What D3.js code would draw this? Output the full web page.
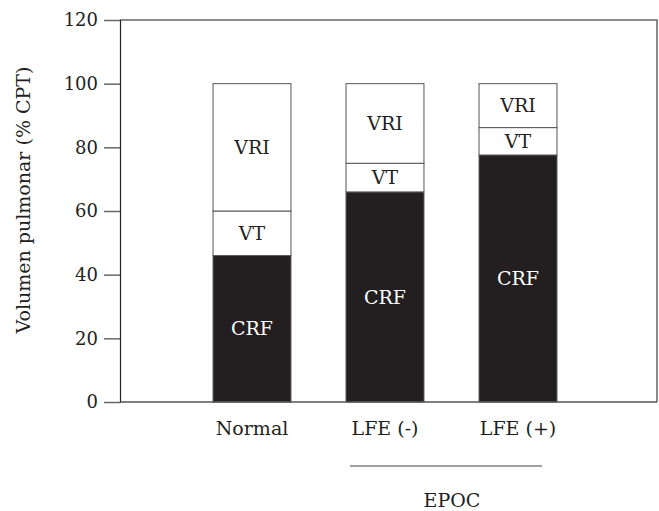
<!DOCTYPE html>
<html>
<head>
<meta charset="utf-8">
<script src="https://cdn.jsdelivr.net/npm/d3@7"></script>
<style>
  body { margin: 0; background: #fff; }
  text { font-family: 'DejaVu Serif', serif; fill: #231f20; }
</style>
</head>
<body>
<div id="chart"></div>
<script>
const categories = ['Normal', 'LFE (-)', 'LFE (+)'];
const crf = [46, 66, 77.6];
const vt = [14, 9, 8.6];
const vri = [40, 25, 13.8];
const yTicks = [0, 20, 40, 60, 80, 100, 120];
const segments = ['CRF', 'VT', 'VRI'];

const width = 659, height = 511;
const box = { left: 120, right: 657, top: 20, bottom: 402 };

const rows = categories.map((c, i) => ({ cat: c, CRF: crf[i], VT: vt[i], VRI: vri[i] }));
const stacked = d3.stack().keys(segments)(rows);

const svg = d3.select('#chart').append('svg')
  .attr('width', width)
  .attr('height', height);

const x = d3.scaleBand()
  .domain(categories)
  .range([185.5, 584.5])
  .paddingInner(0.414)
  .paddingOuter(0.207);

const y = d3.scaleLinear().domain([0, 120]).range([box.bottom, box.top]);

// frame (top + right)
svg.append('path')
  .attr('d', `M${box.left},${box.top}H${box.right}V${box.bottom}`)
  .attr('fill', 'none')
  .attr('stroke', '#666')
  .attr('stroke-width', 1.5);

// bars
const layer = svg.selectAll('g.layer')
  .data(stacked)
  .join('g')
  .attr('class', 'layer');

layer.selectAll('rect')
  .data((d) => d.map((v) => ({ key: d.key, v })))
  .join('rect')
  .attr('x', (d) => x(d.v.data.cat))
  .attr('y', (d) => y(d.v[1]))
  .attr('width', x.bandwidth())
  .attr('height', (d) => y(d.v[0]) - y(d.v[1]))
  .attr('fill', (d) => (d.key === 'CRF' ? '#231f20' : '#fff'))
  .attr('stroke', '#555')
  .attr('stroke-width', 1);

layer.selectAll('text')
  .data((d) => d.map((v) => ({ key: d.key, v })))
  .join('text')
  .attr('x', (d) => x(d.v.data.cat) + x.bandwidth() / 2)
  .attr('y', (d) => (y(d.v[0]) + y(d.v[1])) / 2)
  .attr('dy', '0.35em')
  .attr('text-anchor', 'middle')
  .attr('font-size', 19)
  .style('fill', (d) => (d.key === 'CRF' ? '#fff' : '#231f20'))
  .text((d) => d.key);

// y axis
const yAxis = svg.append('g')
  .attr('transform', `translate(${box.left},0)`)
  .call(d3.axisLeft(y).tickValues(yTicks).tickSize(16).tickPadding(6));
yAxis.select('.domain').attr('stroke', '#222').attr('stroke-width', 1.2);
yAxis.selectAll('.tick line').attr('stroke', '#666').attr('stroke-width', 1.5);
yAxis.selectAll('.tick text')
  .attr('font-family', 'DejaVu Serif, serif')
  .attr('font-size', 18)
  .style('fill', '#231f20');

// x axis
const xAxis = svg.append('g')
  .attr('transform', `translate(0,${box.bottom})`)
  .call(d3.axisBottom(x).tickSize(0).tickPadding(20));
xAxis.select('.domain')
  .attr('d', `M${box.left},0H${box.right}`)
  .attr('stroke', '#555')
  .attr('stroke-width', 1.5);
xAxis.selectAll('.tick text')
  .attr('font-family', 'DejaVu Serif, serif')
  .attr('font-size', 19)
  .style('fill', '#231f20');

// EPOC group bracket
svg.append('line')
  .attr('x1', 350).attr('x2', 542)
  .attr('y1', 466).attr('y2', 466)
  .attr('stroke', '#444')
  .attr('stroke-width', 1.2);

svg.append('text')
  .attr('x', 452)
  .attr('y', 507)
  .attr('text-anchor', 'middle')
  .attr('font-size', 19)
  .text('EPOC');

// y title
svg.append('text')
  .attr('transform', 'translate(30,200) rotate(-90)')
  .attr('text-anchor', 'middle')
  .attr('font-size', 19)
  .text('Volumen pulmonar (% CPT)');
</script>
</body>
</html>
